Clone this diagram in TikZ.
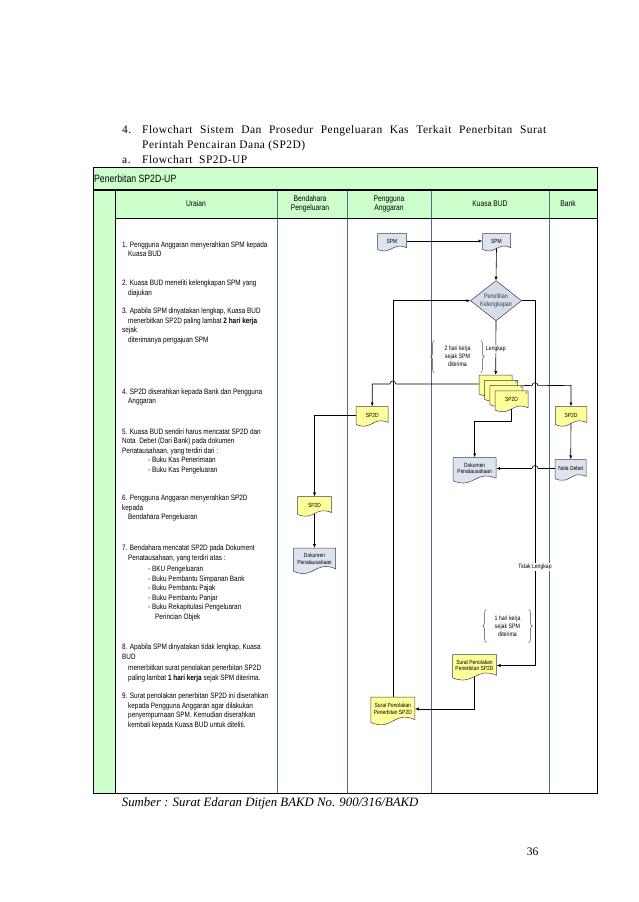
\documentclass[tikz,border=0pt]{standalone}
\usepackage{fontspec}
\setmainfont{Liberation Serif}
\newfontfamily\titlefont[LetterSpace=4]{Liberation Serif}
\newfontfamily\narrowsans[FakeStretch=0.82]{Liberation Sans}
\usetikzlibrary{arrows.meta,decorations.pathreplacing}

\definecolor{laneGreen}{HTML}{CCFFCC}
\definecolor{docYellow}{HTML}{FFFF99}
\definecolor{docBlue}{HTML}{DDE4F0}
\definecolor{checkBlue}{HTML}{D5DDEA}
\definecolor{laneLine}{HTML}{4F6D8C}
\definecolor{docEdge}{HTML}{3A3F48}

\tikzset{
  flowline/.style={draw=black, line width=0.6pt, -{Latex[length=3.8pt,width=3.2pt]}},
  laneline/.style={draw=laneLine, line width=0.6pt},
  titletext/.style={inner sep=0pt, font=\titlefont\fontsize{11.5}{15}\selectfont},
  headtext/.style={align=center, inner sep=0pt, font=\narrowsans\fontsize{8.2}{9.5}\selectfont},
  itemtext/.style={anchor=north west, inner sep=0pt, align=left, font=\narrowsans\fontsize{7.8}{9.5}\selectfont},
  doctext/.style={inner sep=0pt, align=center, font=\narrowsans\fontsize{6}{6.6}\selectfont},
  edgelabel/.style={fill=white, inner sep=0.8pt, font=\narrowsans\fontsize{6.2}{7}\selectfont},
  waittext/.style={inner sep=0pt, align=center, minimum width=46pt, minimum height=32pt, font=\narrowsans\fontsize{6.4}{8}\selectfont},
  bracket/.style={draw=black!70, line width=0.5pt, decorate, decoration={brace, amplitude=3.5pt}},
  cornernum/.style={anchor=north east, inner sep=0.8pt, font=\narrowsans\fontsize{3.5}{4}\selectfont}
}

% document symbol: name, x, y, width, height, fill, text
\newcommand{\flowdoc}[7]{%
  \filldraw[draw=docEdge, line width=0.5pt, fill=#6]
    ({#2-#4/2},{#3-#5/2}) -- ({#2+#4/2},{#3-#5/2}) -- ({#2+#4/2},{#3+#5/2-#5*0.06})
    .. controls (#2,{#3+#5/2-#5*0.45}) and (#2,{#3+#5/2+#5*0.45}) .. ({#2-#4/2},{#3+#5/2+#5*0.06}) -- cycle;
  \node[doctext, minimum width=#4pt, minimum height=#5pt] (#1) at (#2,#3) {#7};
}

\begin{document}
\begin{tikzpicture}[x=1pt,y=-1pt]
  \useasboundingbox (0,0) rectangle (638,902);

  % Page heading
  \node[titletext, anchor=base west] (numfour) at (122,133) {4.};
  \node[titletext, anchor=base west] (headA) at (142,133) {\makebox[404pt][s]{Flowchart Sistem Dan Prosedur Pengeluaran Kas Terkait Penerbitan Surat}};
  \node[titletext, anchor=base west] (headB) at (142,148) {Perintah Pencairan Dana (SP2D)};
  \node[titletext, anchor=base west] (leta) at (122,163.5) {a.};
  \node[titletext, anchor=base west] (headC) at (142,163.5) {Flowchart\ \ SP2D-UP};

  % Swimlane frame
  \fill[laneGreen] (93,167) rectangle (597,190);
  \fill[laneGreen] (93,190) rectangle (115,793);
  \fill[laneGreen] (115,190) rectangle (597,218);
  \draw[laneline] (277,190) -- (277,793);
  \draw[laneline] (347,190) -- (347,793);
  \draw[laneline] (431,190) -- (431,793);
  \draw[laneline] (549,190) -- (549,793);
  \draw[black, line width=0.6pt] (115,190) -- (115,793);
  \draw[black, line width=0.6pt] (115,218) -- (597,218);
  \draw[black, line width=1.2pt] (93,190) -- (597,190);
  \draw[black, line width=0.8pt] (93,167) rectangle (597,793);
  \node[anchor=west, inner sep=0pt, font=\narrowsans\fontsize{10.6}{12}\selectfont] (lanetitle) at (94,178.5) {Penerbitan SP2D-UP};

  % Column heads
  \node[headtext] (hUraian) at (196,204) {Uraian};
  \node[headtext] (hBendahara) at (310,204) {Bendahara\\Pengeluaran};
  \node[headtext] (hPengguna) at (389,204) {Pengguna\\Anggaran};
  \node[headtext] (hKuasa) at (490,204) {Kuasa BUD};
  \node[headtext] (hBank) at (568,204) {Bank};

  % Uraian
  \node[itemtext] (item1) at (122,241.3) {1. Pengguna Anggaran menyerahkan SPM kepada\\\hspace*{6pt}Kuasa BUD};
  \node[itemtext] (item2) at (122,279.8) {2. Kuasa BUD meneliti kelengkapan SPM yang\\\hspace*{6pt}diajukan};
  \node[itemtext] (item3) at (122,307.8) {3. Apabila SPM dinyatakan lengkap, Kuasa BUD\\\hspace*{6pt}menerbitkan SP2D paling lambat \textbf{2 hari kerja}\\sejak\\\hspace*{6pt}diterimanya pengajuan SPM};
  \node[itemtext] (item4) at (122,388.3) {4. SP2D diserahkan kepada Bank dan Pengguna\\\hspace*{6pt}Anggaran};
  \node[itemtext] (item5) at (122,428.3) {5. Kuasa BUD sendiri harus mencatat SP2D dan\\Nota\ \ Debet (Dari Bank) pada dokumen\\Penatausahaan, yang terdiri dari :\\\hspace*{26pt}- Buku Kas Penerimaan\\\hspace*{26pt}- Buku Kas Pengeluaran};
  \node[itemtext] (item6) at (122,494.8) {6. Pengguna Anggaran menyerahkan SP2D\\kepada\\\hspace*{6pt}Bendahara Pengeluaran};
  \node[itemtext] (item7) at (122,544.8) {7. Bendahara mencatat SP2D pada Dokument\\\hspace*{6pt}Penatausahaan, yang terdiri atas :\\[2pt]\hspace*{26pt}- BKU Pengeluaran\\\hspace*{26pt}- Buku Pembantu Simpanan Bank\\\hspace*{26pt}- Buku Pembantu Pajak\\\hspace*{26pt}- Buku Pembantu Panjar\\\hspace*{26pt}- Buku Rekapitulasi Pengeluaran\\\hspace*{33pt}Perincian Objek};
  \node[itemtext] (item8) at (122,643.8) {8. Apabila SPM dinyatakan tidak lengkap, Kuasa\\BUD\\[2pt]\hspace*{6pt}menerbitkan surat penolakan penerbitan SP2D\\\hspace*{6pt}paling lambat \textbf{1 hari kerja} sejak SPM diterima.};
  \node[itemtext] (item9) at (122,692.8) {9. Surat penolakan penerbitan SP2D ini diserahkan\\\hspace*{6pt}kepada Pengguna Anggaran agar dilakukan\\\hspace*{6pt}penyempurnaan SPM. Kemudian diserahkan\\\hspace*{6pt}kembali kepada Kuasa BUD untuk diteliti.};

  % Documents
  \flowdoc{spmPA}{392}{241}{29}{15}{docBlue}{SPM}
  \flowdoc{spmKB}{496.5}{241}{28}{15}{docBlue}{SPM}
  \flowdoc{sp2da}{495.7}{384}{33}{18}{docYellow}{SP2D}
  \flowdoc{sp2db}{501}{389.3}{33}{18}{docYellow}{SP2D}
  \flowdoc{sp2dc}{506.3}{394.6}{33}{18}{docYellow}{SP2D}
  \flowdoc{sp2dd}{511.6}{399.9}{33}{18}{docYellow}{SP2D}
  \node[cornernum] (numtwo) at (sp2db.north east) {2};
  \node[cornernum] (numthree) at (sp2dc.north east) {3};
  \node[cornernum] (numfour) at (sp2dd.north east) {4};
  \flowdoc{sp2dPA}{372.2}{415}{32}{17}{docYellow}{SP2D}
  \flowdoc{sp2dB}{571}{415}{31.5}{17}{docYellow}{SP2D}
  \flowdoc{dokKB}{474.7}{468.5}{43}{22}{docBlue}{Dokumen\\Penatausahaan}
  \flowdoc{nota}{570.7}{468.5}{31}{18}{docBlue}{Nota Debet}
  \flowdoc{sp2dBP}{314.5}{505}{34}{17}{docYellow}{SP2D}
  \flowdoc{dokBP}{314.5}{559}{42}{22}{docBlue}{Dokumen\\Penatausahaan}
  \flowdoc{tolakKB}{474.5}{665.5}{44}{22}{docYellow}{Surat Penolakan\\Penerbitan SP2D}
  \flowdoc{tolakPA}{392.8}{709}{44}{24}{docYellow}{Surat Penolakan\\Penerbitan SP2D}

  % Check
  \filldraw[draw=docEdge, line width=0.5pt, fill=checkBlue] (496,280.7) -- (521.5,300.7) -- (496,320.7) -- (470.5,300.7) -- cycle;
  \node[doctext, text=black!75, font=\narrowsans\fontsize{6.6}{7.6}\selectfont, minimum width=51pt, minimum height=40pt] (cek) at (496,300.7) {Penelitian\\Kelengkapan};
  \coordinate (notok) at (535,300.7);

  % Waiting times
  \node[waittext] (wait2) at (457.5,356.5) {2 hari kerja\\sejak SPM\\diterima};
  \draw[bracket] (wait2.south west) -- (wait2.north west);
  \draw[bracket] (wait2.north east) -- (wait2.south east);
  \node[waittext, minimum width=42pt, minimum height=33pt] (wait1) at (507.5,626) {1 hari kerja\\sejak SPM\\diterima};
  \draw[bracket] (wait1.south west) -- (wait1.north west);
  \draw[bracket] (wait1.north east) -- (wait1.south east);

  % Flow
  \draw[flowline] (spmPA.east) -- (spmKB.west);
  \draw[flowline] (spmKB.south) -- (cek.north);
  \draw[flowline] (cek.south) -- node[edgelabel, pos=0.52] {Lengkap} (sp2da.north);
  \draw[flowline] (sp2da.west) -- (395.8,384) arc[start angle=0, end angle=180, radius=3pt] -- (sp2dPA.north |- sp2da.west) -- (sp2dPA.north);
  \draw[flowline] (sp2dc.north east) -- (532,385.6) arc[start angle=180, end angle=0, radius=3pt] -- (sp2dB.north |- sp2dc.north east) -- (sp2dB.north);
  \draw[flowline] (sp2dd.south) -- ++(0,12) -| (dokKB.north);
  \draw[flowline] (sp2dB.south) -- (nota.north);
  \draw[flowline] (nota.west) -- (538,468.5) arc[start angle=0, end angle=180, radius=3pt] -- (dokKB.east);
  \draw[flowline] (sp2dPA.west) -| (sp2dBP.north);
  \draw[flowline] (sp2dBP.south) -- (dokBP.north);
  \draw[flowline] (cek.east) -- (notok) |- node[edgelabel, pos=0.365] {Tidak Lengkap} (tolakKB.east);
  \draw[flowline] (tolakKB.south) |- (tolakPA.east);
  \draw[flowline] (tolakPA.north) |- (cek.west);

  % Source and page number
  \node[anchor=base west, inner sep=0pt, font=\fontsize{12.8}{14}\selectfont\itshape] (source) at (121.7,806.5) {Sumber : Surat Edaran Ditjen BAKD No. 900/316/BAKD};
  \node[anchor=base east, inner sep=0pt, font=\fontsize{11.5}{13}\selectfont] (pagenum) at (538.5,855) {36};
\end{tikzpicture}
\end{document}
